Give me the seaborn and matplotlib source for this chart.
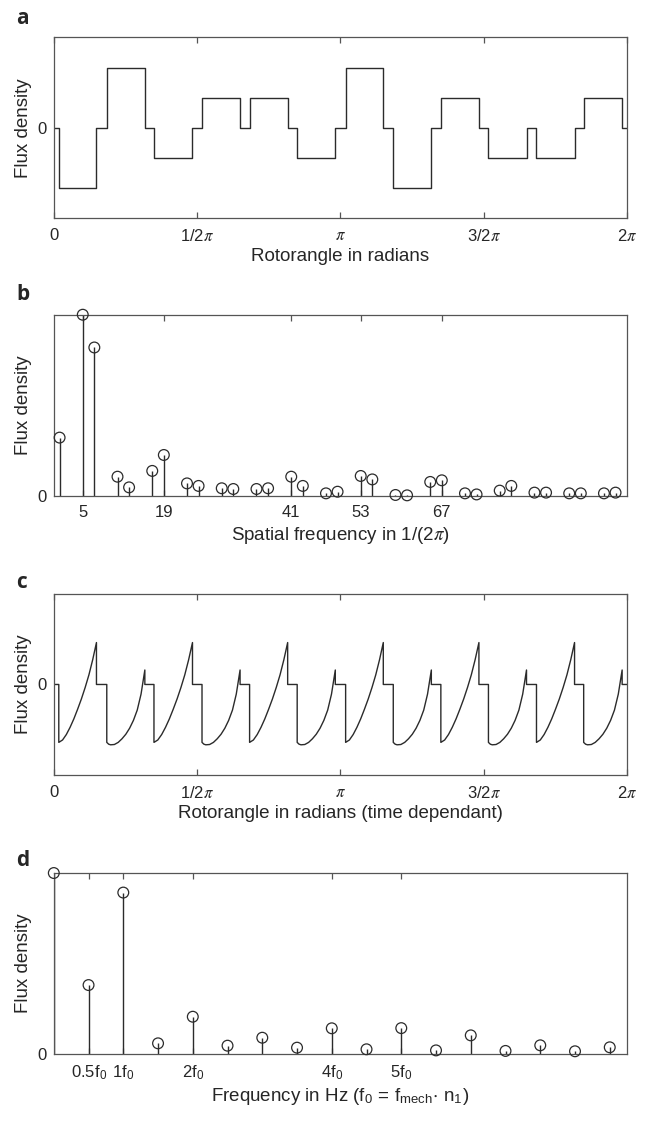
import numpy as np
import pandas as pd
import seaborn as sns
import matplotlib.pyplot as plt

# ---- data ----
# panel a / c: magnet blocks, edges as fraction of one revolution
block_start = [0.0087, 0.0924, 0.1747, 0.2585, 0.3415, 0.4245,
               0.5090, 0.5921, 0.6751, 0.7581, 0.8419, 0.9242]
block_end = [0.0744, 0.1588, 0.2419, 0.3249, 0.4079, 0.4910,
             0.5747, 0.6585, 0.7415, 0.8245, 0.9083, 0.9913]
block_level = [-2, 2, -1, 1, 1, -1, 2, -2, 1, -1, -1, 1]

# panel b: spatial harmonics
spatial_order = [1, 5, 7, 11, 13, 17, 19, 23, 25, 29, 31, 35, 37, 41, 43, 47, 49,
                 53, 55, 59, 61, 65, 67, 71, 73, 77, 79, 83, 85, 89, 91, 95, 97]
spatial_amp = [0.321, 1.0, 0.819, 0.105, 0.046, 0.137, 0.225, 0.068, 0.054, 0.041,
               0.037, 0.037, 0.041, 0.105, 0.054, 0.013, 0.022, 0.109, 0.090, 0.004,
               0.002, 0.076, 0.085, 0.013, 0.007, 0.028, 0.054, 0.017, 0.017, 0.013,
               0.013, 0.013, 0.017]
spatial_ticks = [5, 19, 41, 53, 67]

# panel c: waveform inside a block (position in block 0..1, value)
big_u = [0.0, 0.1, 0.2, 0.3, 0.4, 0.5, 0.6, 0.7, 0.8, 0.9, 1.0]
big_val = [-1.92, -1.84, -1.66, -1.42, -1.14, -0.82, -0.48, -0.10, 0.32, 0.82, 1.39]
small_u = [0.0, 0.05, 0.1, 0.2, 0.3, 0.4, 0.5, 0.6, 0.7, 0.8, 0.9, 1.0]
small_val = [-1.92, -1.98, -2.0, -1.99, -1.92, -1.80, -1.65, -1.45, -1.19, -0.85, -0.32, 0.48]
block_shape = ['big', 'small'] * 6

# panel d: time harmonics in multiples of f0
freq_mult = [0, 0.5, 1, 1.5, 2, 2.5, 3, 3.5, 4, 4.5, 5, 5.5, 6, 6.5, 7, 7.5, 8]
freq_amp = [1.0, 0.381, 0.892, 0.059, 0.206, 0.046, 0.090, 0.035, 0.142, 0.026,
            0.143, 0.020, 0.103, 0.017, 0.048, 0.015, 0.037]
freq_ticks = [0.5, 1, 2, 4, 5]
freq_labels = [r'0.5f$_{\mathregular{0}}$', r'1f$_{\mathregular{0}}$', r'2f$_{\mathregular{0}}$',
               r'4f$_{\mathregular{0}}$', r'5f$_{\mathregular{0}}$']

angle_ticks = [0, 0.5 * np.pi, np.pi, 1.5 * np.pi, 2 * np.pi]
angle_labels = ['0', r'1/2$\pi$', r'$\pi$', r'3/2$\pi$', r'2$\pi$']

# ---- style ----
sns.set_style('white')
plt.rcParams['font.family'] = ['Liberation Sans', 'DejaVu Sans']
plt.rcParams['mathtext.fontset'] = 'stix'
LINE = '#2b2b2b'
SPINE = '#555555'

fig = plt.figure(figsize=(6.49, 11.22), dpi=100)
L, W, H = 0.0829, 0.8834, 0.1613
ax_a = fig.add_axes([L, 0.8054, W, H])
ax_b = fig.add_axes([L, 0.5582, W, H])
ax_c = fig.add_axes([L, 0.3093, W, H])
ax_d = fig.add_axes([L, 0.0606, W, H])


def style(ax, xlabel):
    for s in ax.spines.values():
        s.set_color(SPINE)
        s.set_linewidth(0.9)
    ax.tick_params(axis='x', direction='in', top=True, bottom=True, length=4.5,
                   width=0.9, color=SPINE, labelsize=12, pad=7)
    ax.tick_params(axis='y', direction='in', left=True, length=0, labelsize=12, pad=5)
    ax.set_yticks([0])
    ax.set_yticklabels(['0'])
    ax.set_ylabel('Flux density', fontsize=13.5, labelpad=4)
    ax.set_xlabel(xlabel, fontsize=13.5, labelpad=3)


# panel a: step waveform
xa, ya = [0.0], [0.0]
for s0, s1, lv in zip(block_start, block_end, block_level):
    xa += [s0, s0, s1, s1]
    ya += [0, lv, lv, 0]
xa.append(1.0)
ya.append(0.0)
df_a = pd.DataFrame({'x': np.array(xa) * 2 * np.pi, 'y': ya})
sns.lineplot(data=df_a, x='x', y='y', sort=False, estimator=None, color=LINE, lw=1, ax=ax_a)
ax_a.set_xlim(0, 2 * np.pi)
ax_a.set_ylim(-3, 3)
ax_a.set_xticks(angle_ticks)
ax_a.set_xticklabels(angle_labels)
style(ax_a, 'Rotorangle in radians')

# panel b: spatial spectrum
ax_b.vlines(spatial_order, 0, spatial_amp, color=LINE, lw=1)
sns.scatterplot(x=spatial_order, y=spatial_amp, marker='o', s=60, facecolor='none',
                edgecolor=LINE, linewidth=0.9, clip_on=False, zorder=3, ax=ax_b)
ax_b.set_xlim(0, 99)
ax_b.set_ylim(0, max(spatial_amp))
ax_b.set_xticks(spatial_ticks)
style(ax_b, r'Spatial frequency in 1/(2$\pi$)')

# panel c: time dependant waveform
shapes = {'big': (big_u, big_val), 'small': (small_u, small_val)}
xc, yc = [0.0], [0.0]
for s0, s1, kind in zip(block_start, block_end, block_shape):
    uu, vv = shapes[kind]
    xc.append(s0)
    yc.append(0.0)
    xc += [s0 + u * (s1 - s0) for u in uu]
    yc += vv
    xc.append(s1)
    yc.append(0.0)
xc.append(1.0)
yc.append(0.0)
df_c = pd.DataFrame({'x': np.array(xc) * 2 * np.pi, 'y': yc})
sns.lineplot(data=df_c, x='x', y='y', sort=False, estimator=None, color=LINE, lw=1, ax=ax_c)
ax_c.set_xlim(0, 2 * np.pi)
ax_c.set_ylim(-3, 3)
ax_c.set_xticks(angle_ticks)
ax_c.set_xticklabels(angle_labels)
style(ax_c, 'Rotorangle in radians (time dependant)')

# panel d: frequency spectrum
ax_d.vlines(freq_mult, 0, freq_amp, color=LINE, lw=1)
sns.scatterplot(x=freq_mult, y=freq_amp, marker='o', s=60, facecolor='none',
                edgecolor=LINE, linewidth=0.9, clip_on=False, zorder=3, ax=ax_d)
ax_d.set_xlim(0, 8.25)
ax_d.set_ylim(0, max(freq_amp))
ax_d.set_xticks(freq_ticks)
ax_d.set_xticklabels(freq_labels)
style(ax_d, r'Frequency in Hz (f$_{\mathregular{0}}$ = f$_{\mathregular{mech}}$$\cdot$ n$_{\mathregular{1}}$)')

# panel letters
for letter, ypix in zip('abcd', [18, 295, 583, 860]):
    fig.text(16 / 649, 1 - ypix / 1122, letter, fontsize=15, fontweight='bold',
             family=['Open Sans', 'DejaVu Sans'], ha='left', va='center')

fig.savefig('out.png', dpi=100)
